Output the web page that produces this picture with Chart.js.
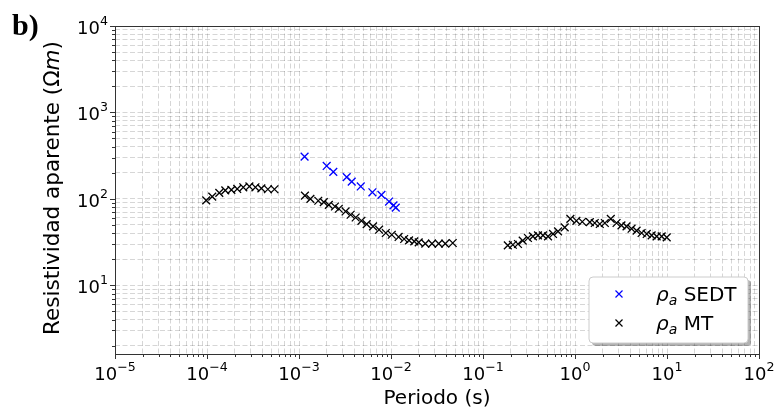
<!DOCTYPE html>
<html>
<head>
  <title>Resistividad aparente vs Periodo</title>
  <script src="https://cdn.jsdelivr.net/npm/chart.js"></script>
  <style>
    body { margin: 0; background: #fff; }
  </style>
</head>
<body>
  <canvas id="rhoChart" width="776" height="411"></canvas>

  <script>
    // Sondeo SEDT (azul)
    const sedtPeriod = [0.00115, 0.0020, 0.00236, 0.0033, 0.00374, 0.00469, 0.00628, 0.00787, 0.00953, 0.01064, 0.01127];
    const sedtRho = [308, 240, 205, 178, 158, 139, 119, 111, 93, 84, 79];

    // Sondeo MT (negro), tres bandas de periodo
    const mtPeriod = [
      9.8e-5, 1.14e-4, 1.36e-4, 1.58e-4, 1.84e-4, 2.13e-4, 2.48e-4, 2.89e-4, 3.36e-4, 3.90e-4, 4.59e-4, 5.41e-4,
      1.16e-3, 1.33e-3, 1.62e-3, 1.86e-3, 2.11e-3, 2.46e-3, 2.71e-3, 3.21e-3, 3.64e-3, 4.13e-3, 4.77e-3, 5.44e-3, 6.38e-3,
      7.42e-3, 8.78e-3, 1.02e-2, 1.21e-2, 1.39e-2, 1.57e-2, 1.79e-2, 2.0e-2, 2.36e-2, 2.79e-2, 3.30e-2, 3.89e-2, 4.69e-2,
      0.186, 0.211, 0.240, 0.270, 0.308, 0.349, 0.396, 0.449, 0.509, 0.577, 0.654, 0.773, 0.891, 1.036, 1.20, 1.45,
      1.64, 1.86, 2.11, 2.45, 2.83, 3.20, 3.63, 4.12, 4.67, 5.30, 6.02, 6.81, 7.72, 8.75, 9.93
    ];
    const mtRho = [
      96, 106, 117, 125, 127, 130, 136, 139, 136, 132, 129, 129,
      109, 100, 95, 91.6, 85, 81.5, 76.7, 71.4, 65.4, 60.8, 55.7, 51, 47.9,
      43.9, 40.2, 38.4, 36.2, 34.3, 33, 32.2, 31.3, 30.3, 30.3, 30.3, 30.3, 30.8,
      28.9, 29.4, 30.0, 32.8, 35.2, 36.7, 37.7, 37.7, 36.7, 39.2, 42.0, 46.7, 58.7, 55.7, 54.3, 53.8,
      52.5, 51.1, 52.5, 58.7, 52.5, 49.2, 47.9, 45.1, 42.8, 40.2, 39.2, 37.7, 36.7, 36.7, 35.8
    ];

    // major tick labels, written as 10^exponent
    const xTickValues = [1e-5, 1e-4, 1e-3, 1e-2, 1e-1, 1e0, 1e1, 1e2];
    const xTickExponents = ['−5', '−4', '−3', '−2', '−1', '0', '1', '2'];
    const yTickValues = [1e1, 1e2, 1e3, 1e4];
    const yTickExponents = ['1', '2', '3', '4'];

    const xMin = 1e-5, xMax = 1e2;
    const yMin = 1.6, yMax = 1e4;

    const FONT = 'DejaVu Sans';
    const AXIS_COLOR = '#333';

    // 1..9 x 10^n ticks for every decade inside [min, max]
    function decadeTicks(min, max) {
      const out = [];
      for (let e = Math.floor(Math.log10(min)); e <= Math.ceil(Math.log10(max)); e++) {
        for (let m = 1; m <= 9; m++) {
          const v = m * Math.pow(10, e);
          if (v >= min * 0.999 && v <= max * 1.001) out.push({ value: v, major: m === 1 });
        }
      }
      return out;
    }

    function points(xs, ys) {
      return xs.map((x, i) => ({ x: x, y: ys[i] }));
    }

    function drawRich(ctx, x, y, parts, align) {
      let total = 0;
      parts.forEach(p => { ctx.font = p.font; total += ctx.measureText(p.text).width; });
      let cx = x;
      if (align === 'center') cx = x - total / 2;
      if (align === 'right') cx = x - total;
      parts.forEach(p => {
        ctx.font = p.font;
        ctx.fillText(p.text, cx, y + (p.dy || 0));
        cx += ctx.measureText(p.text).width;
      });
    }

    function powerLabel(exp) {
      return [
        { text: '10', font: '18px "' + FONT + '"' },
        { text: exp, font: '12.6px "' + FONT + '"', dy: -9 }
      ];
    }

    function roundRect(ctx, x, y, w, h, r) {
      ctx.beginPath();
      ctx.moveTo(x + r, y);
      ctx.arcTo(x + w, y, x + w, y + h, r);
      ctx.arcTo(x + w, y + h, x, y + h, r);
      ctx.arcTo(x, y + h, x, y, r);
      ctx.arcTo(x, y, x + w, y, r);
      ctx.closePath();
    }

    // frame, tick marks and labels, axis titles, panel letter and legend
    const decorations = {
      id: 'decorations',
      afterDraw(chart) {
        const ctx = chart.ctx;
        const a = chart.chartArea;
        const xs = chart.scales.x, ys = chart.scales.y;
        ctx.save();

        ctx.strokeStyle = AXIS_COLOR;
        ctx.lineWidth = 1;
        xs.ticks.forEach(t => {
          const px = Math.round(xs.getPixelForValue(t.value)) + 0.5;
          ctx.beginPath();
          ctx.moveTo(px, a.bottom);
          ctx.lineTo(px, a.bottom + (t.major ? 5 : 3));
          ctx.stroke();
        });
        ys.ticks.forEach(t => {
          const py = Math.round(ys.getPixelForValue(t.value)) + 0.5;
          ctx.beginPath();
          ctx.moveTo(a.left, py);
          ctx.lineTo(a.left - (t.major ? 5 : 3), py);
          ctx.stroke();
        });
        ctx.strokeRect(Math.round(a.left) + 0.5, Math.round(a.top) + 0.5,
          Math.round(a.right - a.left), Math.round(a.bottom - a.top));

        ctx.fillStyle = '#000';
        ctx.textBaseline = 'alphabetic';
        ctx.textAlign = 'left';

        // tick labels
        xTickValues.forEach((v, i) => {
          drawRich(ctx, xs.getPixelForValue(v), a.bottom + 26, powerLabel(xTickExponents[i]), 'center');
        });
        yTickValues.forEach((v, i) => {
          drawRich(ctx, a.left - 7, ys.getPixelForValue(v) + 8, powerLabel(yTickExponents[i]), 'right');
        });

        // x title
        drawRich(ctx, (a.left + a.right) / 2, 404, [{ text: 'Periodo (s)', font: '20px "' + FONT + '"' }], 'center');

        // y title
        ctx.save();
        ctx.translate(58.5, 188);
        ctx.rotate(-Math.PI / 2);
        drawRich(ctx, 0, 0, [
          { text: 'Resistividad aparente (Ω', font: '21.5px "' + FONT + '"' },
          { text: 'm', font: 'oblique 21.5px "' + FONT + '"' },
          { text: ')', font: '21.5px "' + FONT + '"' }
        ], 'center');
        ctx.restore();

        // panel letter
        ctx.font = 'bold 30px "Liberation Serif"';
        ctx.fillText('b)', 12, 35);

        // legend
        const lx = 589, ly = 277, lw = 159, lh = 66;
        ctx.fillStyle = 'rgba(0,0,0,0.3)';
        roundRect(ctx, lx + 3, ly + 3, lw, lh, 4);
        ctx.fill();
        ctx.fillStyle = '#fff';
        roundRect(ctx, lx, ly, lw, lh, 4);
        ctx.fill();
        ctx.strokeStyle = '#cccccc';
        ctx.stroke();

        chart.data.datasets.forEach((ds, i) => {
          const my = ly + 17 + i * 29;
          const mx = 619;
          ctx.strokeStyle = ds.borderColor;
          ctx.lineWidth = 1.2;
          ctx.beginPath();
          ctx.moveTo(mx - 3.5, my - 3.5); ctx.lineTo(mx + 3.5, my + 3.5);
          ctx.moveTo(mx - 3.5, my + 3.5); ctx.lineTo(mx + 3.5, my - 3.5);
          ctx.stroke();
          ctx.fillStyle = '#000';
          drawRich(ctx, 656, my + 7, [
            { text: 'ρ', font: 'oblique 20px "' + FONT + '"' },
            { text: 'a', font: 'oblique 14px "' + FONT + '"', dy: 4 },
            { text: ' ' + ds.label, font: '20px "' + FONT + '"' }
          ], 'left');
        });

        ctx.restore();
      }
    };

    const gridStyle = {
      color: 'rgba(0,0,0,0.16)',
      lineWidth: 1,
      drawTicks: false
    };

    const ctx = document.getElementById('rhoChart').getContext('2d');
    new Chart(ctx, {
      type: 'scatter',
      data: {
        datasets: [{
          label: 'SEDT',
          data: points(sedtPeriod, sedtRho),
          borderColor: '#0000ff',
          backgroundColor: '#0000ff',
          pointStyle: 'crossRot',
          pointRadius: 5.5,
          borderWidth: 1.3
        }, {
          label: 'MT',
          data: points(mtPeriod, mtRho),
          borderColor: '#000000',
          backgroundColor: '#000000',
          pointStyle: 'crossRot',
          pointRadius: 5.5,
          borderWidth: 1.3
        }]
      },
      options: {
        responsive: false,
        animation: false,
        devicePixelRatio: 1,
        layout: { padding: { top: 26, right: 17, left: 0, bottom: 0 } },
        plugins: {
          legend: { display: false },
          tooltip: { enabled: false }
        },
        scales: {
          x: {
            type: 'logarithmic',
            min: xMin,
            max: xMax,
            afterBuildTicks: axis => { axis.ticks = decadeTicks(xMin, xMax); },
            afterFit: axis => { axis.height = 57; },
            grid: gridStyle,
            border: { display: false, dash: [5, 2.5] },
            ticks: { display: false, autoSkip: false }
          },
          y: {
            type: 'logarithmic',
            min: yMin,
            max: yMax,
            afterBuildTicks: axis => { axis.ticks = decadeTicks(yMin, yMax); },
            afterFit: axis => { axis.width = 115; },
            grid: gridStyle,
            border: { display: false, dash: [5, 2.5] },
            ticks: { display: false, autoSkip: false }
          }
        }
      },
      plugins: [decorations]
    });
  </script>
</body>
</html>
